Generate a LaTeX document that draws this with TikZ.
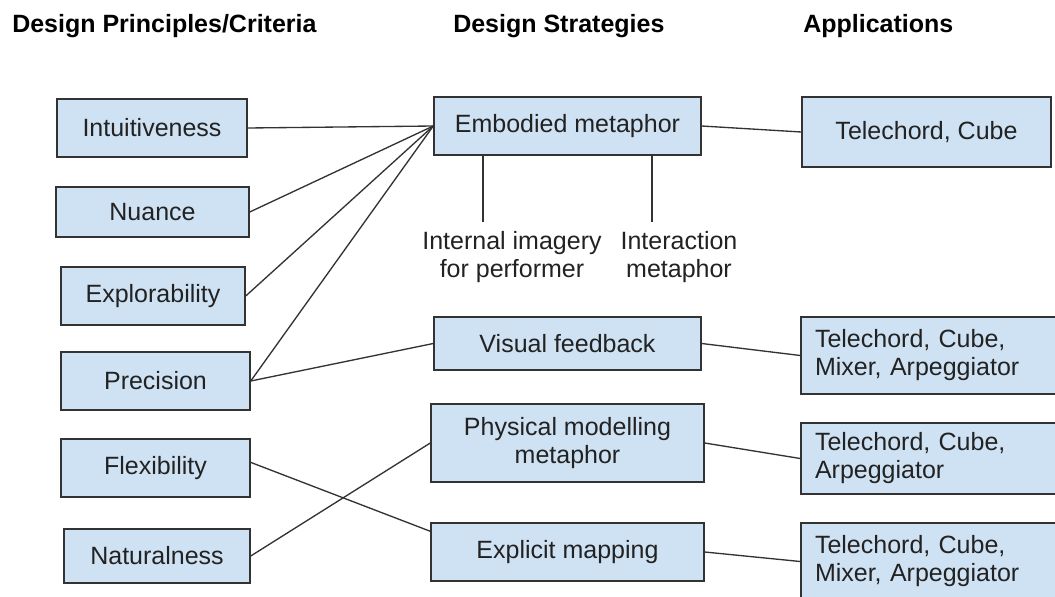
\documentclass[tikz,border=0pt]{standalone}
\usepackage{fontspec}
\setmainfont{Liberation Sans}
\usetikzlibrary{calc}
\definecolor{boxfill}{HTML}{CFE2F3}
\definecolor{edgecol}{HTML}{333333}
\definecolor{txtcol}{HTML}{222222}
\begin{document}
\begin{tikzpicture}[x=0.75pt,y=-0.75pt,
  box/.style={draw=edgecol, line width=1.1pt, fill=boxfill, inner sep=0pt, text=txtcol,
    font=\fontsize{18.75}{21}\selectfont, align=center},
  appbox/.style={box, align=left, text width=180.75pt, inner xsep=10.5pt, inner ysep=0pt},
  conn/.style={draw=edgecol, line width=1pt},
  hdr/.style={font=\bfseries\fontsize{18.75}{21}\selectfont, anchor=base west, inner sep=0pt, text=black},
  lbl/.style={font=\fontsize{18.75}{21}\selectfont, text=txtcol, align=center, inner sep=0pt}
]
\useasboundingbox (0,0) rectangle (1055,596);
\fill[white] (0,0) rectangle (1055,596);
\begin{scope}
\clip (0,0) rectangle (1055,596);

% headers
\node[hdr] (h1) at (12,32) {Design Principles/Criteria};
\node[hdr] (h2) at (453,32) {Design Strategies};
\node[hdr] (h3) at (803,32) {Applications};

% principles
\node[box, minimum width=142.5pt, minimum height=43.5pt] (int) at (152,128) {Intuitiveness};
\node[box, minimum width=144.75pt, minimum height=37.5pt] (nua) at (152.5,212) {Nuance};
\node[box, minimum width=138pt, minimum height=43.5pt] (exl) at (153,296) {Explorability};
\node[box, minimum width=141.75pt, minimum height=43.5pt] (pre) at (155.5,381) {Precision};
\node[box, minimum width=141.75pt, minimum height=43.5pt] (fle) at (155.5,468) {Flexibility};
\node[box, minimum width=139.5pt, minimum height=40.5pt] (nat) at (157,556) {Naturalness};

% strategies
\node[box, minimum width=200.25pt, minimum height=43.5pt] (emb) at (567.5,126) {Embodied metaphor};
\node[box, minimum width=200.25pt, minimum height=39.75pt] (vf) at (567.5,343.5) {Visual feedback};
\node[box, minimum width=204.75pt, minimum height=58.5pt] (phy) at (567.5,443) {Physical modelling\\metaphor};
\node[box, minimum width=204.75pt, minimum height=43.5pt] (exm) at (567.5,552) {Explicit mapping};

% sub labels
\node[lbl] (img) at (512,257.5) {Internal imagery\\for performer};
\node[lbl] (ima) at (679,257.5) {Interaction\\metaphor};
\coordinate (v1) at (483,222);
\coordinate (v2) at (652,222);

% applications
\node[box, minimum width=186.75pt, minimum height=52.5pt] (a1) at (926.5,132) {Telechord, Cube};
\node[appbox, minimum height=57.75pt] (a2) at (935.5,355.5) {Telechord, Cube,\\Mixer, Arpeggiator};
\node[appbox, minimum height=53.25pt] (a3) at (935.5,458.5) {Telechord, Cube,\\Arpeggiator};
\node[appbox, minimum height=57.75pt] (a4) at (935.5,561.5) {Telechord, Cube,\\Mixer, Arpeggiator};

% connectors
\draw[conn] (int.east) -- (emb.west);
\draw[conn] (nua.east) -- (emb.west);
\draw[conn] (exl.east) -- (emb.west);
\draw[conn] (pre.east) -- (emb.west);
\draw[conn] (pre.east) -- (vf.west);
\draw[conn] ($(fle.east)+(-1,-6)$) -- ($(exm.north west)+(0,9)$);
\draw[conn] (nat.east) -- (phy.west);
\draw[conn] (emb.south -| v1) -- (v1);
\draw[conn] (emb.south -| v2) -- (v2);
\draw[conn] (emb.east) -- (a1.west);
\draw[conn] (vf.east) -- (a2.west);
\draw[conn] (phy.east) -- (a3.west);
\draw[conn] (exm.east) -- (a4.west);
\end{scope}
\end{tikzpicture}
\end{document}
